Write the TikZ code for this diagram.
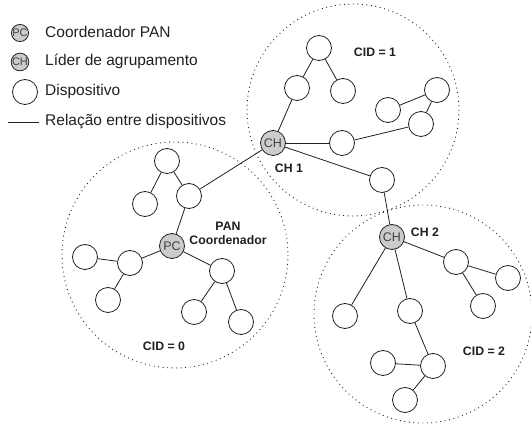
\documentclass[tikz,border=0pt]{standalone}
\usepackage{fontspec}
\setmainfont{Liberation Sans}
\definecolor{ink}{HTML}{231F20}
\definecolor{leadgray}{gray}{0.8}

\begin{document}
\begin{tikzpicture}[x=1pt,y=-1pt,
    dev/.style={circle,draw=ink,line width=0.8pt,fill=white,minimum size=25pt,inner sep=0pt},
    lead/.style={dev,fill=leadgray,text=ink!85,font=\fontsize{12.5}{12.5}\selectfont},
    legmark/.style={circle,draw=ink,line width=0.8pt,fill=leadgray,text=ink!85,
      minimum size=17pt,inner sep=0pt,font=\fontsize{11}{11}\selectfont},
    tag/.style={text=ink,font=\bfseries\fontsize{12.3}{14}\selectfont,inner sep=0pt,align=center},
    legend/.style={text=ink,font=\fontsize{15.5}{16}\selectfont,anchor=west,inner sep=0pt},
    link/.style={draw=ink,line width=0.8pt},
    cluster/.style={draw=ink,line width=0.9pt,dash pattern=on 0.9pt off 3.6pt}]
    \useasboundingbox (0,0) rectangle (531,427);

    % clusters
    \draw[cluster] (175,255) circle[radius=113];
    \draw[cluster] (353,110) circle[radius=106];
    \draw[cluster] (423,314) circle[radius=109];

    % legend
    \node[legmark] (leg-pc) at (20,33) {PC};
    \node[legend] (leg-pc-text) at (45,32) {Coordenador PAN};
    \node[legmark] (leg-ch) at (20,62) {CH};
    \node[legend] (leg-ch-text) at (45,61) {Líder de agrupamento};
    \node[dev] (leg-dev) at (25,92) {};
    \node[legend] (leg-dev-text) at (45,91) {Dispositivo};
    \coordinate (leg-rel-a) at (8,122);
    \coordinate (leg-rel-b) at (39,122);
    \draw[link] (leg-rel-a) -- (leg-rel-b);
    \node[legend] (leg-rel-text) at (45,122) {Relação entre dispositivos};

    % cluster 0
    \node[lead] (pc) at (172,246) {PC};
    \node[dev] (c0-up) at (189,196) {};
    \node[dev] (c0-top) at (167,161) {};
    \node[dev] (c0-upleft) at (145,204) {};
    \node[dev] (c0-left) at (130,263) {};
    \node[dev] (c0-farleft) at (85,257) {};
    \node[dev] (c0-lowleft) at (108,300) {};
    \node[dev] (c0-right) at (222,271) {};
    \node[dev] (c0-low) at (194,312) {};
    \node[dev] (c0-lowright) at (241,322) {};
    \node[tag] (pan-lbl) at (228,233) {PAN\\Coordenador};
    \node[tag] (cid0) at (164,346) {CID = 0};

    % cluster 1
    \node[lead] (ch1) at (273,143) {CH};
    \node[dev] (c1-left) at (297,88) {};
    \node[dev] (c1-top) at (319,48) {};
    \node[dev] (c1-right) at (343,91) {};
    \node[dev] (c1-mid) at (342,143) {};
    \node[dev] (c1-far) at (421,124) {};
    \node[dev] (c1-farup) at (437,90) {};
    \node[dev] (c1-inner) at (388,110) {};
    \node[dev] (c1-bridge) at (382,180) {};
    \node[tag] (ch1-lbl) at (289,168) {CH 1};
    \node[tag] (cid1) at (375,52) {CID = 1};

    % cluster 2
    \node[lead] (ch2) at (392,237) {CH};
    \node[dev] (c2-right) at (456,262) {};
    \node[dev] (c2-farright) at (508,278) {};
    \node[dev] (c2-lowright) at (483,306) {};
    \node[dev] (c2-left) at (345,316) {};
    \node[dev] (c2-mid) at (410,311) {};
    \node[dev] (c2-low) at (433,366) {};
    \node[dev] (c2-lowleft) at (383,363) {};
    \node[dev] (c2-bottom) at (405,400) {};
    \node[tag] (ch2-lbl) at (425,232) {CH 2};
    \node[tag] (cid2) at (484,351) {CID = 2};

    \draw[link] (pc) -- (c0-up);
    \draw[link] (c0-up) -- (c0-top);
    \draw[link] (c0-top) -- (c0-upleft);
    \draw[link] (c0-up) -- (ch1);
    \draw[link] (pc) -- (c0-left);
    \draw[link] (c0-left) -- (c0-farleft);
    \draw[link] (c0-left) -- (c0-lowleft);
    \draw[link] (pc) -- (c0-right);
    \draw[link] (c0-right) -- (c0-low);
    \draw[link] (c0-right) -- (c0-lowright);

    \draw[link] (ch1) -- (c1-left);
    \draw[link] (c1-left) -- (c1-top);
    \draw[link] (c1-top) -- (c1-right);
    \draw[link] (ch1) -- (c1-mid);
    \draw[link] (c1-mid) -- (c1-far);
    \draw[link] (c1-far) -- (c1-farup);
    \draw[link] (c1-farup) -- (c1-inner);
    \draw[link] (ch1) -- (c1-bridge);
    \draw[link] (c1-bridge) -- (ch2);

    \draw[link] (ch2) -- (c2-left);
    \draw[link] (ch2) -- (c2-mid);
    \draw[link] (c2-mid) -- (c2-low);
    \draw[link] (c2-low) -- (c2-lowleft);
    \draw[link] (c2-low) -- (c2-bottom);
    \draw[link] (ch2) -- (c2-right);
    \draw[link] (c2-right) -- (c2-farright);
    \draw[link] (c2-right) -- (c2-lowright);
\end{tikzpicture}
\end{document}
